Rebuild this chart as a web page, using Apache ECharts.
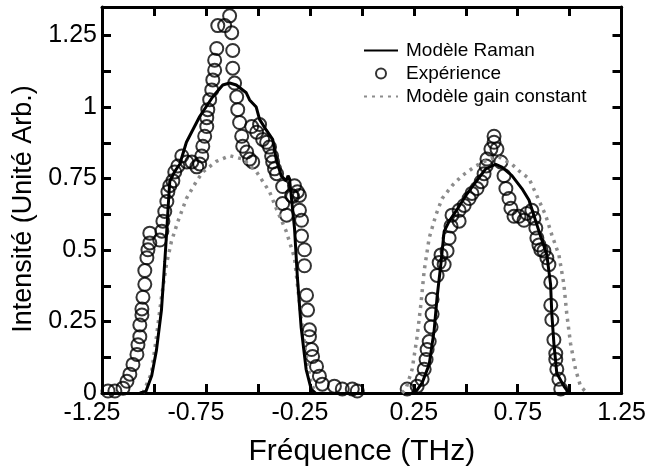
<!DOCTYPE html>
<html><head><meta charset="utf-8">
<script src="https://cdn.jsdelivr.net/npm/echarts@6/dist/echarts.min.js"></script>
<style>html,body{margin:0;padding:0;background:#fff}#c{width:649px;height:472px}</style>
</head><body><div id="c"></div>
<script>
// Tick labels
var xTickLabels = ['-1.25', '-0.75', '-0.25', '0.25', '0.75', '1.25'];
var yTickLabels = ['0', '0.25', '0.5', '0.75', '1', '1.25'];

// Modèle Raman (solid)
var ramanLeft = [[-1.068,0],[-1.039,0.005],[-1.011,0.06],[-0.988,0.15],[-0.964,0.29],[-0.948,0.46],[-0.940,0.55],[-0.931,0.66],[-0.924,0.74],[-0.900,0.775],[-0.876,0.80],[-0.844,0.877],[-0.780,0.967],[-0.717,1.036],[-0.669,1.077],[-0.636,1.084],[-0.604,1.077],[-0.556,1.05],[-0.540,1.025],[-0.508,1.0],[-0.492,0.957],[-0.460,0.92],[-0.429,0.887],[-0.412,0.818],[-0.388,0.76],[-0.364,0.742],[-0.355,0.76],[-0.348,0.75],[-0.324,0.577],[-0.310,0.404],[-0.292,0.23],[-0.268,0.083],[-0.244,0.014],[-0.223,0]];
var ramanRight = [[0.240,0],[0.260,0.005],[0.290,0.035],[0.324,0.10],[0.348,0.22],[0.362,0.335],[0.380,0.45],[0.396,0.565],[0.420,0.60],[0.452,0.635],[0.500,0.69],[0.548,0.738],[0.596,0.784],[0.644,0.80],[0.674,0.79],[0.722,0.76],[0.770,0.715],[0.804,0.675],[0.852,0.566],[0.890,0.483],[0.908,0.38],[0.914,0.276],[0.924,0.173],[0.938,0.069],[0.972,0.024],[0.996,0]];

// Modèle gain constant (dotted)
var gainLeft = [[-1.053,0],[-1.012,0.069],[-0.988,0.197],[-0.964,0.335],[-0.940,0.45],[-0.916,0.53],[-0.885,0.60],[-0.844,0.68],[-0.796,0.74],[-0.765,0.773],[-0.700,0.81],[-0.636,0.83],[-0.573,0.818],[-0.508,0.775],[-0.444,0.704],[-0.412,0.646],[-0.364,0.566],[-0.324,0.473],[-0.310,0.38],[-0.292,0.266],[-0.268,0.128],[-0.244,0.035],[-0.223,0]];
var gainRight = [[0.194,0],[0.212,0.014],[0.242,0.083],[0.266,0.197],[0.284,0.31],[0.300,0.428],[0.324,0.542],[0.356,0.622],[0.386,0.68],[0.434,0.725],[0.482,0.76],[0.548,0.794],[0.612,0.818],[0.660,0.825],[0.722,0.80],[0.756,0.777],[0.804,0.75],[0.842,0.69],[0.884,0.622],[0.914,0.553],[0.948,0.483],[0.972,0.38],[0.986,0.276],[1.004,0.173],[1.028,0.083],[1.052,0.024],[1.082,0]];

// Expérience (circles)
var expLeft = [[-1.221,0.007],[-1.188,0.007],[-1.149,0.017],[-1.130,0.041],[-1.116,0.066],[-1.101,0.100],[-1.082,0.135],[-1.077,0.169],[-1.068,0.197],[-1.068,0.238],[-1.058,0.273],[-1.058,0.294],[-1.053,0.335],[-1.044,0.380],[-1.044,0.428],[-1.034,0.473],[-1.029,0.501],[-1.020,0.525],[-1.020,0.559],[-0.972,0.535],[-0.962,0.566],[-0.957,0.601],[-0.948,0.635],[-0.938,0.670],[-0.933,0.704],[-0.924,0.725],[-0.909,0.742],[-0.900,0.773],[-0.885,0.794],[-0.866,0.829],[-0.842,0.808],[-0.818,0.808],[-0.794,0.791],[-0.780,0.801],[-0.770,0.829],[-0.765,0.863],[-0.756,0.898],[-0.746,0.932],[-0.746,0.963],[-0.741,0.991],[-0.732,1.026],[-0.722,1.060],[-0.717,1.095],[-0.708,1.129],[-0.708,1.164],[-0.698,1.205],[-0.693,1.285],[-0.660,1.285],[-0.636,1.319],[-0.626,1.260],[-0.621,1.198],[-0.621,1.136],[-0.612,1.084],[-0.602,1.036],[-0.597,0.991],[-0.588,0.946],[-0.578,0.898],[-0.573,0.863],[-0.554,0.843],[-0.540,0.818],[-0.525,0.808],[-0.530,0.932],[-0.506,0.912],[-0.492,0.939],[-0.477,0.887],[-0.458,0.877],[-0.444,0.860],[-0.434,0.829],[-0.429,0.808],[-0.420,0.784],[-0.410,0.767],[-0.381,0.722],[-0.324,0.725],[-0.310,0.704],[-0.338,0.691],[-0.381,0.663],[-0.333,0.687],[-0.300,0.691],[-0.362,0.622],[-0.300,0.639],[-0.290,0.604],[-0.290,0.549],[-0.276,0.501],[-0.276,0.445],[-0.266,0.342],[-0.261,0.290],[-0.252,0.221],[-0.252,0.197],[-0.242,0.152],[-0.237,0.128],[-0.218,0.093],[-0.204,0.059],[-0.190,0.031],[-0.132,0.024],[-0.094,0.014],[-0.046,0.014],[-0.022,0.007]];
var expRight = [[0.218,0.014],[0.266,0.024],[0.290,0.048],[0.300,0.083],[0.309,0.117],[0.314,0.152],[0.324,0.180],[0.333,0.231],[0.338,0.276],[0.338,0.328],[0.362,0.411],[0.372,0.456],[0.381,0.483],[0.396,0.449],[0.410,0.497],[0.420,0.542],[0.429,0.584],[0.434,0.622],[0.468,0.601],[0.468,0.639],[0.492,0.656],[0.516,0.680],[0.530,0.698],[0.554,0.715],[0.574,0.739],[0.588,0.767],[0.598,0.794],[0.602,0.818],[0.621,0.853],[0.636,0.877],[0.636,0.898],[0.650,0.853],[0.669,0.808],[0.684,0.760],[0.693,0.715],[0.708,0.680],[0.717,0.646],[0.732,0.618],[0.756,0.618],[0.780,0.604],[0.794,0.628],[0.818,0.639],[0.828,0.611],[0.837,0.577],[0.842,0.542],[0.852,0.518],[0.861,0.501],[0.876,0.497],[0.890,0.473],[0.900,0.449],[0.909,0.387],[0.909,0.307],[0.914,0.256],[0.924,0.186],[0.933,0.138],[0.933,0.117],[0.938,0.083],[0.948,0.048],[0.957,0.014]];

var FONT = 'Liberation Sans, Arial, sans-serif';
var X_MIN = -1.25, X_MAX = 1.25, X_STEP = 0.25;
var Y_MIN = 0, Y_MAX = 1.35, Y_STEP = 0.125;
// tick length expressed in axis units (about 9 px)
var X_TICK = 0.043, Y_TICK = 0.031;

// Inward tick marks on all four frame sides, built from the axis tick values
var tickLines = [];
for (var i = 1; X_MIN + i * X_STEP < X_MAX - 1e-9; i++) {
  var xv = X_MIN + i * X_STEP;
  tickLines.push([{coord: [xv, Y_MIN]}, {coord: [xv, Y_MIN + Y_TICK]}]);
  tickLines.push([{coord: [xv, Y_MAX]}, {coord: [xv, Y_MAX - Y_TICK]}]);
}
for (var j = 1; Y_MIN + j * Y_STEP < Y_MAX - 1e-9; j++) {
  var yv = Y_MIN + j * Y_STEP;
  tickLines.push([{coord: [X_MIN, yv]}, {coord: [X_MIN + X_TICK, yv]}]);
  tickLines.push([{coord: [X_MAX, yv]}, {coord: [X_MAX - X_TICK, yv]}]);
}

var chart = echarts.init(document.getElementById('c'), null, {renderer: 'canvas'});

function near(a, b) { return Math.abs(a - b) < 1e-6; }
function xLabel(v) {
  for (var i = 0; i < xTickLabels.length; i++) {
    if (near(parseFloat(xTickLabels[i]), v)) {
      return v < 0 ? '{neg|' + xTickLabels[i] + '}' : xTickLabels[i];
    }
  }
  return '';
}
function yLabel(v) {
  for (var i = 0; i < yTickLabels.length; i++) {
    if (near(parseFloat(yTickLabels[i]), v)) return yTickLabels[i];
  }
  return '';
}

function axisLineStyle() { return {show: true, onZero: false, lineStyle: {color: '#000', width: 3}}; }
function tickStyle() { return {show: true, inside: true, length: 9, lineStyle: {color: '#000', width: 3}}; }

var option = {
  backgroundColor: '#fff',
  animation: false,
  grid: {left: 102, right: 26, top: 7, bottom: 75, containLabel: false},
  legend: {
    orient: 'vertical', left: 358, top: 36,
    itemWidth: 34, itemHeight: 10, itemGap: 4,
    textStyle: {fontFamily: FONT, fontSize: 19, color: '#000', padding: [0, 0, 0, 3]},
    data: [
      {name: 'Modèle Raman', itemStyle: {color: 'rgba(0,0,0,0)', borderColor: 'rgba(0,0,0,0)', borderWidth: 0}},
      {name: 'Expérience', icon: 'circle', itemStyle: {color: '#fff', borderColor: '#000', borderWidth: 2}},
      {name: 'Modèle gain constant', itemStyle: {color: 'rgba(0,0,0,0)', borderColor: 'rgba(0,0,0,0)', borderWidth: 0}}
    ]
  },
  xAxis: [{
    type: 'value', position: 'bottom', min: X_MIN, max: X_MAX, interval: X_STEP,
    name: 'Fréquence (THz)', nameLocation: 'middle', nameGap: 44,
    nameTextStyle: {fontFamily: FONT, fontSize: 30, color: '#000'},
    axisLine: axisLineStyle(), axisTick: tickStyle(), splitLine: {show: false},
    axisLabel: {fontFamily: FONT, fontSize: 25, color: '#000', margin: 8, formatter: xLabel,
      showMinLabel: true, showMaxLabel: true,
      rich: {neg: {fontFamily: FONT, fontSize: 25, color: '#000', padding: [0, 20, 0, 0]}}}
  }, {
    type: 'value', position: 'top', min: X_MIN, max: X_MAX, interval: X_STEP,
    axisLine: axisLineStyle(), axisTick: tickStyle(), axisLabel: {show: false}, splitLine: {show: false}
  }],
  yAxis: [{
    type: 'value', position: 'left', min: Y_MIN, max: Y_MAX, interval: Y_STEP,
    name: 'Intensité (Unité Arb.)', nameLocation: 'middle', nameGap: 61,
    nameTextStyle: {fontFamily: FONT, fontSize: 27, color: '#000', padding: [0, 18, 0, 0]},
    axisLine: axisLineStyle(), axisTick: tickStyle(), splitLine: {show: false},
    axisLabel: {fontFamily: FONT, fontSize: 25, color: '#000', margin: 5, formatter: yLabel, showMaxLabel: false}
  }, {
    type: 'value', position: 'right', min: Y_MIN, max: Y_MAX, interval: Y_STEP,
    axisLine: axisLineStyle(), axisTick: tickStyle(), axisLabel: {show: false}, splitLine: {show: false}
  }],
  series: [
    {
      name: 'Expérience', type: 'scatter', symbol: 'circle', symbolSize: 13, z: 2,
      xAxisIndex: 0, yAxisIndex: 0,
      itemStyle: {color: 'rgba(0,0,0,0)', borderColor: '#000', borderWidth: 2},
      data: expLeft.concat(expRight)
    },
    {
      name: 'Modèle gain constant', type: 'line', showSymbol: false, symbol: 'none', z: 3,
      xAxisIndex: 0, yAxisIndex: 0,
      lineStyle: {color: '#8c8c8c', width: 3.5, type: [3, 5]},
      itemStyle: {color: '#8c8c8c'},
      data: gainLeft.concat([[0, '-']], gainRight)
    },
    {
      name: 'Modèle Raman', type: 'line', showSymbol: false, symbol: 'none', z: 4,
      xAxisIndex: 0, yAxisIndex: 0,
      lineStyle: {color: '#000', width: 3},
      itemStyle: {color: '#000'},
      data: ramanLeft.concat([[0, '-']], ramanRight),
      markLine: {
        silent: true, symbol: ['none', 'none'], animation: false, precision: 4,
        label: {show: false},
        emphasis: {disabled: true},
        lineStyle: {color: '#000', width: 3, type: 'solid', opacity: 1},
        data: tickLines
      }
    }
  ]
};
chart.setOption(option);
</script>
</body></html>
